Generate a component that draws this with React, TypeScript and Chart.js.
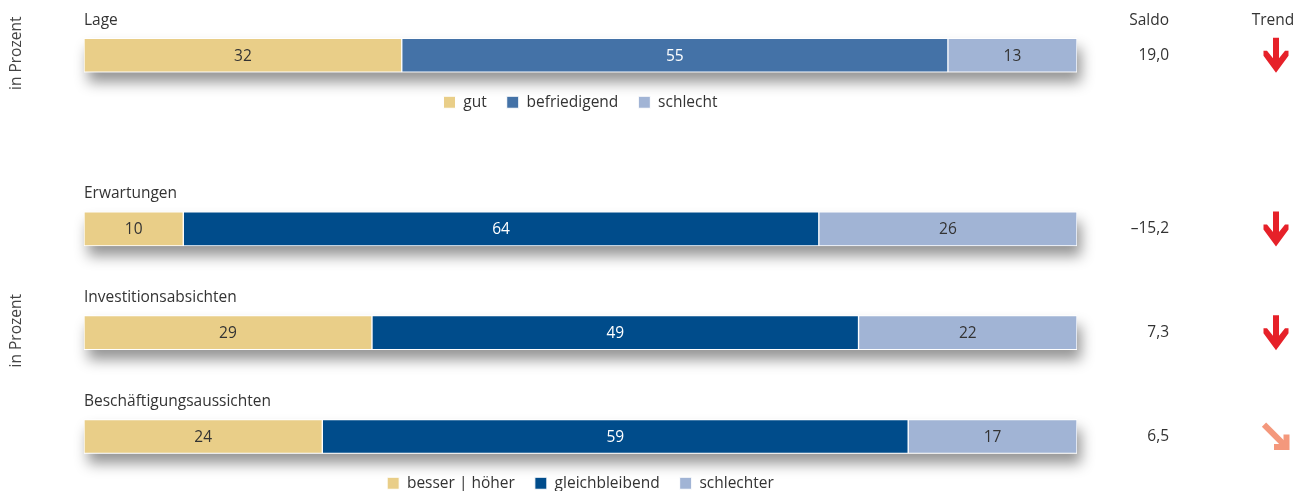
import React, { useEffect, useRef } from "react";
import { Chart, registerables } from "chart.js";
Chart.register(...registerables);

// ---- data ----
const lageCategories = ["Lage"];
const lageLegend = ["gut", "befriedigend", "schlecht"];
const lageGut = [32];
const lageBefriedigend = [55];
const lageSchlecht = [13];
const lageSaldo = [19.0];
const lageTrend = ["down"];

const outlookCategories = ["Erwartungen", "Investitionsabsichten", "Beschäftigungsaussichten"];
const outlookLegend = ["besser | höher", "gleichbleibend", "schlechter"];
const outlookBesser = [10, 29, 24];
const outlookGleich = [64, 49, 59];
const outlookSchlechter = [26, 22, 17];
const outlookSaldo = [-15.2, 7.3, 6.5];
const outlookTrend = ["down", "down", "down-right"];

const headerSaldo = "Saldo";
const headerTrend = "Trend";
const axisLabel = "in Prozent";

// ---- styles ----
const FONT = "'Open Sans', 'Noto Sans', sans-serif";
const FSIZE = 15.5;
const TEXT = "#333333";
const GOLD = "#E9CE88";
const MID_BLUE = "#4472A7";
const DARK_BLUE = "#004C8B";
const LIGHT_BLUE = "#A1B4D5";
const ARROW_RED = "#E62129";
const ARROW_SALMON = "#F4987C";
const SALDO_X = 1169;
const TREND_X = 1276;

function fmtSaldo(v: number): string {
  const s = Math.abs(v).toFixed(1).replace(".", ",");
  return v < 0 ? "\u2013" + s : s;
}

function drawTrend(ctx: CanvasRenderingContext2D, cx: number, cy: number, trend: string) {
  ctx.save();
  ctx.translate(cx, cy);
  if (trend === "down") {
    ctx.fillStyle = ARROW_RED;
    ctx.beginPath();
    const pts = [
      [-3, -17.5], [3, -17.5], [3, 3], [9, -4.5], [12.5, -4.5], [12.5, 0.5],
      [0, 17.5], [-12.5, 0.5], [-12.5, -4.5], [-9, -4.5], [-3, 3],
    ];
    pts.forEach(([x, y], i) => (i === 0 ? ctx.moveTo(x, y) : ctx.lineTo(x, y)));
    ctx.closePath();
    ctx.fill();
  } else {
    ctx.strokeStyle = ARROW_SALMON;
    ctx.lineWidth = 6;
    ctx.lineCap = "butt";
    ctx.lineJoin = "miter";
    ctx.beginPath();
    ctx.moveTo(-12, -12);
    ctx.lineTo(9, 9);
    ctx.stroke();
    ctx.beginPath();
    ctx.moveTo(-2, 10.5);
    ctx.lineTo(10.5, 10.5);
    ctx.lineTo(10.5, -2);
    ctx.stroke();
  }
  ctx.restore();
}

function makePlugin(opts: {
  id: string;
  categories: string[];
  saldo: number[];
  trend: string[];
  header: boolean;
  labelColors: string[];
}) {
  return {
    id: opts.id,
    beforeDatasetsDraw(chart: any) {
      const ctx = chart.ctx as CanvasRenderingContext2D;
      const first = chart.getDatasetMeta(0);
      const last = chart.getDatasetMeta(chart.data.datasets.length - 1);
      first.data.forEach((el: any, i: number) => {
        const endEl = last.data[i];
        const left = el.base;
        const right = endEl.x;
        const top = el.y - el.height / 2;
        ctx.save();
        ctx.shadowColor = "rgba(0,0,0,0.42)";
        ctx.shadowBlur = 14;
        ctx.shadowOffsetX = 4;
        ctx.shadowOffsetY = 10;
        ctx.fillStyle = "#ffffff";
        ctx.fillRect(left, top, right - left, el.height);
        ctx.restore();
      });
    },
    afterDatasetsDraw(chart: any) {
      const ctx = chart.ctx as CanvasRenderingContext2D;
      ctx.save();
      ctx.font = `${FSIZE}px ${FONT}`;
      ctx.textAlign = "center";
      ctx.textBaseline = "middle";
      chart.data.datasets.forEach((ds: any, d: number) => {
        const meta = chart.getDatasetMeta(d);
        meta.data.forEach((el: any, i: number) => {
          const c = el.getCenterPoint();
          ctx.fillStyle = opts.labelColors[d];
          ctx.fillText(String(ds.data[i].x), c.x, c.y + 1);
        });
      });
      ctx.restore();
    },
    afterDraw(chart: any) {
      const ctx = chart.ctx as CanvasRenderingContext2D;
      const area = chart.chartArea;
      const meta = chart.getDatasetMeta(0);
      ctx.save();
      ctx.font = `${FSIZE}px ${FONT}`;
      ctx.fillStyle = TEXT;
      ctx.textBaseline = "middle";
      const ys = meta.data.map((el: any) => el.y);
      meta.data.forEach((el: any, i: number) => {
        const y = el.y;
        ctx.textAlign = "left";
        ctx.fillStyle = TEXT;
        ctx.fillText(opts.categories[i], area.left, y - 35);
        ctx.textAlign = "right";
        ctx.fillText(fmtSaldo(opts.saldo[i]), SALDO_X, y);
        if (opts.header && i === 0) {
          ctx.fillText(headerSaldo, SALDO_X, y - 35);
          ctx.textAlign = "center";
          ctx.fillText(headerTrend, TREND_X - 3, y - 35);
        }
        drawTrend(ctx, TREND_X, y, opts.trend[i]);
      });
      // rotated axis label
      const mid = (Math.min(...ys) + Math.max(...ys)) / 2 - 2;
      ctx.translate(17, mid);
      ctx.rotate(-Math.PI / 2);
      ctx.textAlign = "center";
      ctx.fillStyle = "#444444";
      ctx.fillText(axisLabel, 0, 0);
      ctx.restore();
    },
  };
}

function buildConfig(
  legend: string[],
  series: number[][],
  colors: string[],
  yMax: number,
  topPad: number,
  plugin: any
): any {
  return {
    type: "bar",
    data: {
      datasets: series.map((vals, d) => ({
        label: legend[d],
        data: vals.map((v, i) => ({ x: v, y: i })),
        backgroundColor: colors[d],
        borderColor: "#ffffff",
        borderWidth: 1,
        borderSkipped: false,
        barThickness: 34,
      })),
    },
    options: {
      indexAxis: "y",
      responsive: false,
      maintainAspectRatio: false,
      animation: false,
      layout: { padding: { left: 84, right: 229, top: topPad, bottom: 0 } },
      scales: {
        x: { type: "linear", display: false, min: 0, max: 100, stacked: true },
        y: {
          type: "linear",
          display: false,
          reverse: true,
          offset: false,
          min: -0.5,
          max: yMax,
          stacked: true,
        },
      },
      plugins: {
        legend: {
          position: "bottom",
          fullSize: false,
          labels: {
            boxWidth: 12,
            boxHeight: 12,
            padding: 20,
            color: TEXT,
            font: { family: FONT, size: FSIZE },
          },
        },
        tooltip: { enabled: false },
      },
    },
    plugins: [plugin],
  };
}

export default function App() {
  const topRef = useRef<HTMLCanvasElement>(null);
  const botRef = useRef<HTMLCanvasElement>(null);

  useEffect(() => {
    document.body.style.margin = "0";
    const top = new Chart(
      topRef.current as HTMLCanvasElement,
      buildConfig(
        lageLegend,
        [lageGut, lageBefriedigend, lageSchlecht],
        [GOLD, MID_BLUE, LIGHT_BLUE],
        0.38,
        30,
        makePlugin({
          id: "lageDeco",
          categories: lageCategories,
          saldo: lageSaldo,
          trend: lageTrend,
          header: true,
          labelColors: [TEXT, "#ffffff", TEXT],
        })
      )
    );
    const bottom = new Chart(
      botRef.current as HTMLCanvasElement,
      buildConfig(
        outlookLegend,
        [outlookBesser, outlookGleich, outlookSchlechter],
        [GOLD, DARK_BLUE, LIGHT_BLUE],
        2.183,
        27,
        makePlugin({
          id: "outlookDeco",
          categories: outlookCategories,
          saldo: outlookSaldo,
          trend: outlookTrend,
          header: false,
          labelColors: [TEXT, "#ffffff", TEXT],
        })
      )
    );
    return () => {
      top.destroy();
      bottom.destroy();
    };
  }, []);

  return (
    <div style={{ position: "relative", width: 1306, height: 491, overflow: "hidden", background: "#fff" }}>
      <canvas ref={topRef} width={1306} height={119} style={{ position: "absolute", left: 0, top: 0 }} />
      <canvas ref={botRef} width={1306} height={351} style={{ position: "absolute", left: 0, top: 150 }} />
    </div>
  );
}
